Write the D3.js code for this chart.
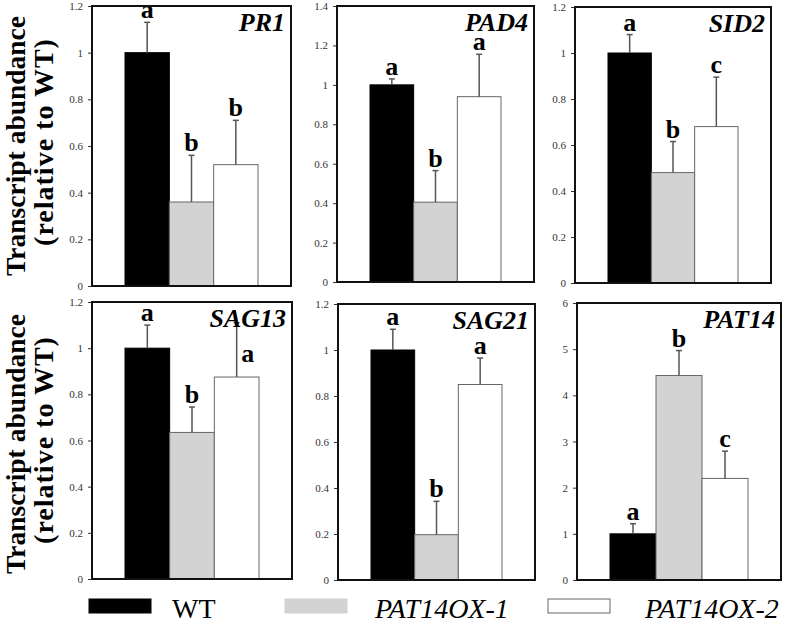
<!DOCTYPE html>
<html>
<head>
<meta charset="utf-8">
<script src="https://cdn.jsdelivr.net/npm/d3@7"></script>
<style>
  body { margin: 0; background: #fff; }
</style>
</head>
<body>
<svg id="chart" width="787" height="624" font-family="Liberation Serif, Times New Roman, serif"></svg>
<script>
// data
const genes = ["PR1", "PAD4", "SID2", "SAG13", "SAG21", "PAT14"];
const lines = ["WT", "PAT14OX-1", "PAT14OX-2"];
const wtVals = [1, 1, 1, 1, 1, 1];
const ox1Vals = [0.36, 0.405, 0.48, 0.635, 0.197, 4.43];
const ox2Vals = [0.52, 0.94, 0.68, 0.875, 0.85, 2.2];
const wtErr = [0.13, 0.03, 0.08, 0.10, 0.09, 0.22];
const ox1Err = [0.20, 0.16, 0.135, 0.11, 0.145, 0.54];
const ox2Err = [0.19, 0.215, 0.215, 0.235, 0.115, 0.59];
const letters = [["a", "b", "b"], ["a", "b", "a"], ["a", "b", "c"],
                 ["a", "b", "a"], ["a", "b", "a"], ["a", "b", "c"]];
const yMax = [1.2, 1.4, 1.2, 1.2, 1.2, 6];
const tickCount = [6, 7, 6, 6, 6, 6];

const fills = ["#000", "#d3d3d3", "#fff"];
const serif = "'Liberation Serif', 'Times New Roman', serif";

// panel frames (layout)
const frames = [
  {l: 92, r: 291, t: 6, b: 286},
  {l: 337, r: 534, t: 6, b: 282},
  {l: 575, r: 771, t: 7, b: 283},
  {l: 92, r: 292, t: 302, b: 579},
  {l: 338, r: 535, t: 304, b: 580},
  {l: 577, r: 781, t: 303, b: 580}
];

const svg = d3.select("#chart");

genes.forEach((gene, i) => {
  const f = frames[i];
  const g = svg.append("g");
  const vals = [wtVals[i], ox1Vals[i], ox2Vals[i]];
  const errs = [wtErr[i], ox1Err[i], ox2Err[i]];

  const x = d3.scaleBand().domain(lines).range([f.l + 33, f.r - 33]).padding(0);
  const y = d3.scaleLinear().domain([0, yMax[i]]).range([f.b, f.t]);

  // y axis
  const axis = g.append("g")
    .attr("transform", `translate(${f.l},0)`)
    .call(d3.axisLeft(y).ticks(tickCount[i]).tickFormat(d3.format("~g")).tickSize(4).tickPadding(5));
  axis.attr("font-family", serif);
  axis.select(".domain").remove();
  axis.selectAll(".tick line").attr("stroke", "#333");
  axis.selectAll(".tick text")
    .attr("fill", "#333")
    .style("font-size", "11px")
    .style("font-family", serif);

  // bars
  g.selectAll("rect.bar")
    .data(lines)
    .enter().append("rect")
    .attr("class", "bar")
    .attr("x", d => x(d))
    .attr("width", x.bandwidth())
    .attr("y", (d, j) => y(vals[j]))
    .attr("height", (d, j) => f.b - y(vals[j]))
    .attr("fill", (d, j) => fills[j])
    .attr("stroke", (d, j) => j === 0 ? "#000" : "#666")
    .attr("stroke-width", 1);

  // error bars
  lines.forEach((d, j) => {
    const cx = x(d) + x.bandwidth() / 2;
    const top = y(vals[j] + errs[j]);
    g.append("line")
      .attr("x1", cx).attr("x2", cx)
      .attr("y1", y(vals[j])).attr("y2", top)
      .attr("stroke", "#555").attr("stroke-width", 1.5);
    g.append("line")
      .attr("x1", cx - 3).attr("x2", cx + 3)
      .attr("y1", top).attr("y2", top)
      .attr("stroke", "#555").attr("stroke-width", 1.5);

    // significance letter; SAG13 OX-2 letter sits beside its error bar
    const beside = gene === "SAG13" && j === 2;
    g.append("text")
      .attr("x", beside ? cx + 11 : cx)
      .attr("y", beside ? y(vals[j]) - 15 : top - 4)
      .attr("text-anchor", "middle")
      .style("font-family", serif)
      .style("font-size", "26px")
      .style("font-weight", "bold")
      .text(letters[i][j]);
  });

  // frame
  g.append("rect")
    .attr("x", f.l).attr("y", f.t)
    .attr("width", f.r - f.l).attr("height", f.b - f.t)
    .attr("fill", "none")
    .attr("stroke", "#111")
    .attr("stroke-width", 2);

  // gene name
  g.append("text")
    .attr("x", f.r - 6)
    .attr("y", f.t + 25)
    .attr("text-anchor", "end")
    .style("font-family", serif)
    .style("font-size", "26px")
    .style("font-weight", "bold")
    .style("font-style", "italic")
    .text(gene);
});

// y titles
[146, 444].forEach(cy => {
  svg.append("text")
    .attr("transform", `translate(25,${cy}) rotate(-90)`)
    .attr("text-anchor", "middle")
    .style("font-family", serif)
    .style("font-size", "27.5px")
    .style("font-weight", "bold")
    .text("Transcript abundance");
  svg.append("text")
    .attr("transform", `translate(53,${cy - 4}) rotate(-90)`)
    .attr("text-anchor", "middle")
    .style("font-family", serif)
    .style("font-size", "28px")
    .style("font-weight", "bold")
    .style("letter-spacing", "1px")
    .text("(relative to WT)");
});

// legend
const legX = [89, 285, 548];
const legTextX = [172, 375, 645];
lines.forEach((d, j) => {
  svg.append("rect")
    .attr("x", legX[j]).attr("y", 599)
    .attr("width", 62).attr("height", 14)
    .attr("fill", fills[j])
    .attr("stroke", j === 0 ? "#000" : (j === 1 ? "#d3d3d3" : "#666"))
    .attr("stroke-width", 1);
  svg.append("text")
    .attr("x", legTextX[j]).attr("y", 618)
    .style("font-family", serif)
    .style("font-size", "28px")
    .style("font-style", j === 0 ? "normal" : "italic")
    .text(d);
});
</script>
</body>
</html>
